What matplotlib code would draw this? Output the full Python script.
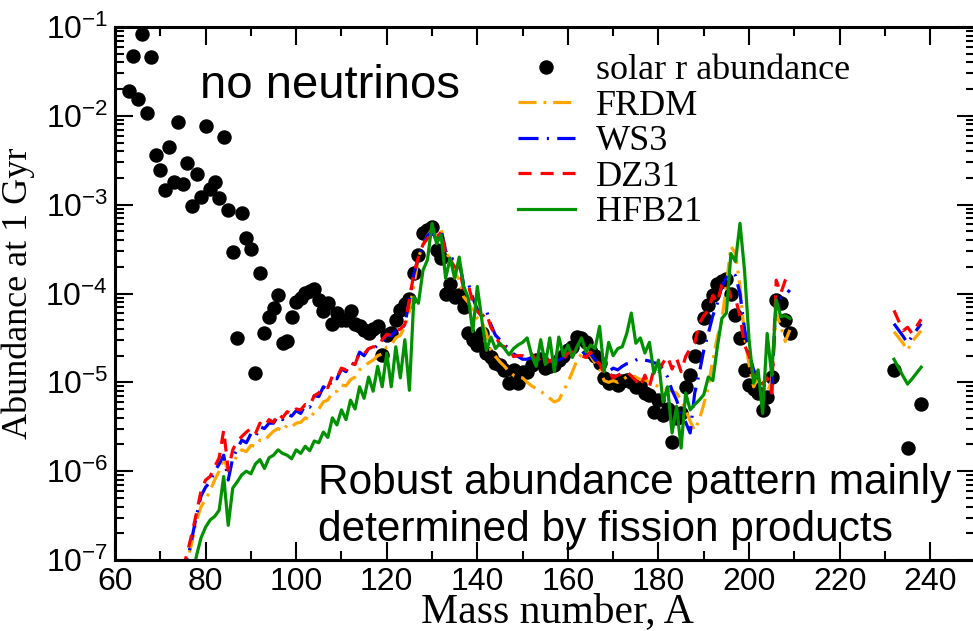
import numpy as np
import matplotlib
matplotlib.use('Agg')
import matplotlib.pyplot as plt
from matplotlib.ticker import LogLocator, MultipleLocator, LogFormatterSciNotation, NullFormatter

plt.rcParams['font.family'] = 'Liberation Sans'
plt.rcParams['mathtext.fontset'] = 'custom'
plt.rcParams['mathtext.rm'] = 'Liberation Sans'
plt.rcParams['mathtext.it'] = 'Liberation Sans:italic'
plt.rcParams['mathtext.bf'] = 'Liberation Sans:bold'
plt.rcParams['lines.scale_dashes'] = False

# solar r-process abundances, log10 values
solar_A = np.arange(63, 210)
solar_log = [
    -1.72, -1.33, -1.81, -1.08, -1.97, -1.34, -2.44, -2.61, -2.83, -2.35,
    -2.74, -2.07, -2.77, -2.53, -3.01, -2.65, -2.91, -2.11, -2.82, -2.74,
    -2.93, -2.24, -3.06, -3.53, -4.50, -3.09, -3.38, -3.50, -4.89, -3.77,
    -4.45, -4.27, -4.16, -4.02, -4.56, -4.53, -4.26, -4.10, -4.05, -3.99,
    -3.97, -3.95, -4.07, -4.20, -4.11, -4.34, -4.22, -4.30, -4.30, -4.20,
    -4.34, -4.37, -4.41, -4.45, -4.40, -4.37, -4.69, -4.47, -4.45, -4.30,
    -4.19, -4.12, -4.06, -3.77, -3.57, -3.32, -3.28, -3.25, -3.51, -3.60,
    -4.00, -3.89, -4.04, -4.02, -4.15, -4.45, -4.52, -4.58, -4.45, -4.67,
    -4.72, -4.78, -4.80, -4.86, -5.01, -4.86, -5.01, -4.88, -4.88, -4.80,
    -4.75, -4.74, -4.84, -4.82, -4.80, -4.75, -4.70, -4.64, -4.60, -4.49,
    -4.50, -4.55, -4.66, -4.70, -4.78, -4.95, -5.01, -4.98, -5.03, -4.98,
    -4.97, -5.00, -5.05, -5.03, -5.12, -5.14, -5.33, -5.20, -5.37, -5.30,
    -5.67, -5.40, -5.35, -5.05, -4.92, -4.70, -4.49, -4.28, -4.13, -4.02,
    -3.89, -3.86, -3.84, -4.00, -4.24, -4.50, -4.86, -5.03, -5.07, -5.12,
    -5.31, -5.16, -4.94, -4.07, -4.11, -4.30, -4.45,
]
solar_act_A = [232, 235, 238]
solar_act_log = [-4.86, -5.74, -5.24]

# network calculations (log10 abundance at 1 Gyr)
model_A = np.arange(75, 210)
frdm_log = [
    -7.30, -7.00, -6.80, -6.55, -6.40, -6.32, -6.22, -6.10, -6.00, -5.85,
    -6.00, -5.92, -5.82, -5.76, -5.78, -5.71, -5.72, -5.65, -5.66, -5.60,
    -5.55, -5.52, -5.55, -5.48, -5.50, -5.46, -5.45, -5.40, -5.42, -5.33,
    -5.30, -5.22, -5.20, -5.11, -5.10, -5.03, -5.04, -4.97, -4.94, -4.86,
    -4.82, -4.78, -4.75, -4.70, -4.68, -4.60, -4.58, -4.50, -4.47, -4.37,
    -4.20, -3.90, -3.60, -3.45, -3.35, -3.28, -3.35, -3.28, -3.50, -3.64,
    -3.75, -3.85, -4.04, -4.10, -4.20, -4.28, -4.32, -4.45, -4.64, -4.71,
    -4.77, -4.82, -4.88, -4.92, -4.94, -4.95, -5.00, -5.04, -5.07, -5.10,
    -5.14, -5.18, -5.22, -5.20, -5.10, -5.00, -4.88, -4.75, -4.68, -4.62,
    -4.70, -4.78, -4.85, -4.98, -5.00, -4.98, -5.00, -4.97, -4.94, -4.92,
    -4.94, -4.97, -4.97, -5.00, -5.02, -5.05, -5.06, -5.08, -5.10, -5.12,
    -5.20, -5.31, -5.44, -5.54, -5.42, -5.25, -5.05, -4.75, -4.49, -4.30,
    -3.90, -3.47, -3.55, -3.92, -4.49, -4.80, -5.05, -4.95, -5.05, -5.12,
    -4.98, -4.22, -4.37, -4.54, -4.41,
]
ws3_log = [
    -7.20, -7.00, -6.75, -6.50, -6.28, -6.18, -6.12, -6.00, -5.92, -5.82,
    -6.10, -5.85, -5.75, -5.65, -5.68, -5.58, -5.62, -5.50, -5.52, -5.46,
    -5.46, -5.38, -5.42, -5.36, -5.38, -5.32, -5.35, -5.26, -5.28, -5.15,
    -5.16, -5.05, -5.08, -4.95, -4.96, -4.85, -4.88, -4.78, -4.80, -4.66,
    -4.70, -4.62, -4.63, -4.58, -4.55, -4.46, -4.48, -4.42, -4.42, -4.35,
    -4.07, -3.78, -3.60, -3.45, -3.35, -3.30, -3.40, -3.28, -3.52, -3.60,
    -3.62, -3.65, -3.90, -3.88, -4.05, -4.18, -4.22, -4.19, -4.35, -4.47,
    -4.52, -4.58, -4.62, -4.68, -4.71, -4.74, -4.74, -4.72, -4.75, -4.75,
    -4.78, -4.76, -4.77, -4.75, -4.72, -4.67, -4.66, -4.66, -4.64, -4.70,
    -4.68, -4.75, -4.79, -4.82, -4.88, -4.84, -4.86, -4.82, -4.79, -4.78,
    -4.75, -4.73, -4.75, -4.76, -4.78, -4.79, -4.85, -4.94, -5.09, -5.20,
    -5.35, -5.45, -5.57, -5.12, -4.90, -4.64, -4.45, -4.25, -4.11, -3.92,
    -3.82, -3.77, -3.80, -4.00, -4.40, -4.67, -4.86, -4.95, -5.00, -5.10,
    -5.12, -4.00, -4.05, -4.02, -3.96,
]
dz31_log = [
    -7.10, -6.91, -6.70, -6.47, -6.22, -6.10, -6.06, -5.95, -5.85, -5.54,
    -5.99, -5.76, -5.66, -5.61, -5.56, -5.52, -5.58, -5.46, -5.50, -5.42,
    -5.45, -5.35, -5.40, -5.33, -5.36, -5.30, -5.31, -5.25, -5.26, -5.15,
    -5.12, -5.05, -5.06, -4.93, -4.95, -4.84, -4.86, -4.78, -4.80, -4.66,
    -4.68, -4.62, -4.60, -4.60, -4.52, -4.46, -4.47, -4.42, -4.40, -4.35,
    -4.07, -3.77, -3.59, -3.45, -3.38, -3.32, -3.40, -3.30, -3.55, -3.62,
    -3.70, -3.72, -3.95, -3.90, -4.10, -4.20, -4.26, -4.22, -4.38, -4.47,
    -4.58, -4.60, -4.62, -4.71, -4.70, -4.70, -4.72, -4.68, -4.75, -4.73,
    -4.80, -4.75, -4.78, -4.75, -4.74, -4.67, -4.66, -4.66, -4.70, -4.72,
    -4.66, -4.75, -4.79, -4.90, -4.88, -4.95, -4.92, -4.90, -4.88, -4.93,
    -4.98, -5.05, -4.92, -5.05, -4.85, -4.88, -4.78, -4.71, -4.85, -4.73,
    -4.88, -4.71, -4.62, -4.56, -4.34, -4.25, -4.19, -4.02, -4.10, -3.90,
    -3.87, -4.04, -4.05, -4.26, -4.58, -4.70, -4.94, -4.92, -5.02, -4.95,
    -5.12, -3.85, -4.00, -3.85, -3.76,
]
hfb_A = np.arange(77, 210)
hfb21_log = [
    -7.20, -6.95, -6.75, -6.63, -6.55, -6.51, -6.44, -6.06, -6.61, -6.19,
    -6.12, -6.04, -6.00, -6.03, -5.92, -5.87, -5.97, -5.85, -5.82, -5.76,
    -5.80, -5.82, -5.86, -5.76, -5.80, -5.72, -5.77, -5.66, -5.68, -5.56,
    -5.62, -5.40, -5.48, -5.31, -5.42, -5.20, -5.30, -5.05, -5.18, -4.94,
    -5.10, -4.82, -5.05, -4.67, -5.05, -4.60, -4.95, -4.52, -5.09, -4.04,
    -4.11, -3.74, -3.62, -3.21, -3.44, -3.34, -3.83, -3.60, -3.83, -3.59,
    -3.92, -4.05, -4.43, -3.92, -4.30, -4.64, -4.49, -4.62, -4.56, -4.62,
    -4.69, -4.62, -4.58, -4.55, -4.50, -4.70, -4.82, -4.52, -4.80, -4.50,
    -4.88, -4.49, -4.70, -4.58, -4.72, -4.60, -4.50, -4.66, -4.58, -4.62,
    -4.37, -4.88, -4.55, -4.70, -4.62, -4.60, -4.45, -4.22, -4.56, -4.50,
    -4.67, -4.55, -4.90, -4.75, -5.22, -5.05, -5.57, -5.27, -5.74, -5.12,
    -5.31, -5.25, -5.20, -5.14, -4.94, -4.98, -4.60, -4.28, -4.22, -3.55,
    -3.64, -3.21, -3.74, -4.52, -5.01, -4.86, -5.35, -4.45, -4.92, -4.07,
    -4.26, -4.25, -4.28,
]
# actinides
act_A = [232, 234, 235, 236, 238]
frdm_act = [-4.43, -4.56, -4.64, -4.54, -4.42]
ws3_act = [-4.34, -4.48, -4.56, -4.48, -4.34]
dz31_act = [-4.19, -4.42, -4.38, -4.45, -4.29]
hfb21_act = [-4.74, -4.93, -5.02, -4.96, -4.83]

x_ticks = [60, 80, 100, 120, 140, 160, 180, 200, 220, 240]
y_ticks = [1e-7, 1e-6, 1e-5, 1e-4, 1e-3, 1e-2, 1e-1]

GREEN = '#009100'
styles = {
    'FRDM': dict(color='#FFA500', dashes=(13, 5, 2, 5)),
    'WS3': dict(color='#0000FF', dashes=(14.4, 6, 1.5, 6)),
    'DZ31': dict(color='#FF0000', dashes=(9.4, 6.5)),
    'HFB21': dict(color=GREEN, linestyle='-'),
}
series = [
    ('FRDM', model_A, frdm_log, frdm_act),
    ('WS3', model_A, ws3_log, ws3_act),
    ('DZ31', model_A, dz31_log, dz31_act),
    ('HFB21', hfb_A, hfb21_log, hfb21_act),
]

fig = plt.figure(figsize=(9.73, 6.31), dpi=100)
ax = fig.add_axes([115 / 973, 71 / 631, (975.5 - 115) / 973, 533 / 631])

ax.plot(solar_A, 10.0 ** np.array(solar_log), 'o', color='black', ms=9.4,
        label='solar r abundance')
ax.plot(solar_act_A, 10.0 ** np.array(solar_act_log), 'o', color='black', ms=9.4)

for name, A, vals, act in series:
    st = styles[name]
    ax.plot(A, 10.0 ** np.array(vals), lw=2.3, label=name, **st)
    ax.plot(act_A, 10.0 ** np.array(act), lw=2.3, **st)

ax.set_yscale('log')
ax.set_xlim(60, 250)
ax.set_ylim(1e-7, 1e-1)

ax.set_xticks(x_ticks)
ax.set_yticks(y_ticks)
ax.xaxis.set_minor_locator(MultipleLocator(10))
ax.yaxis.set_minor_locator(LogLocator(base=10, subs=np.arange(2, 10), numticks=20))
ax.yaxis.set_major_formatter(LogFormatterSciNotation())
ax.yaxis.set_minor_formatter(NullFormatter())

ax.tick_params(which='both', direction='in', top=True, right=True, width=1.5,
               labelsize=23)
ax.tick_params(which='major', length=13, pad=5)
ax.tick_params(which='minor', length=6.5)
for sp in ax.spines.values():
    sp.set_linewidth(2.2)

ax.set_xlabel('Mass number, A', family='Liberation Serif', fontsize=30)
ax.set_ylabel('Abundance at 1 Gyr', family='Liberation Serif', fontsize=26)
ax.xaxis.label.set_va('baseline')
ax.xaxis.set_label_coords(0.514, -0.116)
ax.yaxis.set_label_coords(-0.093, 0.5)

ax.text(0.099, 0.867, 'no neutrinos', transform=ax.transAxes, fontsize=34,
        va='baseline', ha='left')
ax.text(0.236, 0.124, 'Robust abundance pattern mainly', transform=ax.transAxes,
        fontsize=30.5, va='baseline', ha='left')
ax.text(0.236, 0.036, 'determined by fission products', transform=ax.transAxes,
        fontsize=30.5, va='baseline', ha='left')

leg = ax.legend(loc='upper left', bbox_to_anchor=(0.468, 0.949), frameon=False,
                numpoints=1, handlelength=1.58, handletextpad=0.58,
                labelspacing=0.06, borderpad=0, borderaxespad=0,
                prop={'family': 'Liberation Serif', 'size': 26})

fig.savefig('out.png', dpi=100)
